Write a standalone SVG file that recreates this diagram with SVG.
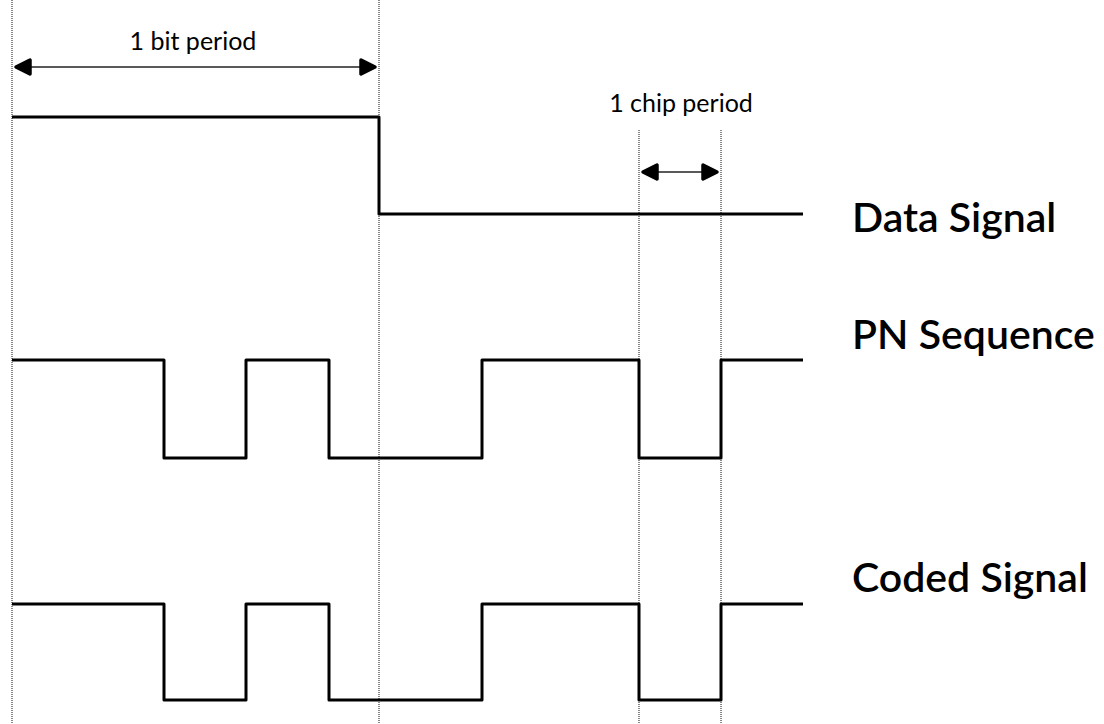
<svg xmlns="http://www.w3.org/2000/svg" width="1104" height="724" viewBox="0 0 1104 724">
<defs>
<style>
.grid{stroke:#888;stroke-width:2;stroke-dasharray:1 1;fill:none}
.sig{stroke:#000;stroke-width:3;fill:none;stroke-linejoin:round}
.dim{stroke:#222;stroke-width:1.5;fill:none}
.lbl{font-family:Lato,"Liberation Sans",sans-serif;font-size:41px;font-weight:600;fill:#000}
.small{font-family:Lato,"Liberation Sans",sans-serif;font-size:25px;fill:#000;text-anchor:middle}
</style>
<marker id="ah" viewBox="0 0 20 20" refX="18" refY="10" markerWidth="20" markerHeight="20" markerUnits="userSpaceOnUse" orient="auto-start-reverse">
<path d="M3,3 L17,10 L3,17 Z" fill="#000" stroke="#000" stroke-width="3.5" stroke-linejoin="round"/>
</marker>
</defs>
<rect width="1104" height="724" fill="#fff"/>
<g id="gridlines">
<line class="grid" x1="12" y1="0" x2="12" y2="724"/>
<line class="grid" x1="379" y1="0" x2="379" y2="724"/>
<line class="grid" x1="639" y1="130" x2="639" y2="724"/>
<line class="grid" x1="721" y1="130" x2="721" y2="724"/>
</g>
<g id="connectors">
<line class="dim" x1="15" y1="67" x2="376" y2="67" marker-start="url(#ah)" marker-end="url(#ah)"/>
<line class="dim" x1="642" y1="172" x2="718" y2="172" marker-start="url(#ah)" marker-end="url(#ah)"/>
</g>
<g id="bit-period-label"><text class="small" x="193" y="50">1 bit period</text></g>
<g id="chip-period-label"><text class="small" x="681" y="112">1 chip period</text></g>
<g id="data-signal">
<polyline class="sig" points="12,117 379,117 379,214 803,214"/>
<text class="lbl" x="852" y="232">Data Signal</text>
</g>
<g id="pn-sequence">
<polyline class="sig" points="12,360 164,360 164,458 246,458 246,360 329,360 329,458 482,458 482,360 639,360 639,458 721,458 721,360 803,360"/>
<text class="lbl" x="852" y="349">PN Sequence</text>
</g>
<g id="coded-signal">
<polyline class="sig" points="12,604 164,604 164,700 246,700 246,604 329,604 329,700 482,700 482,604 639,604 639,700 721,700 721,604 803,604"/>
<text class="lbl" x="852" y="592">Coded Signal</text>
</g>
</svg>
